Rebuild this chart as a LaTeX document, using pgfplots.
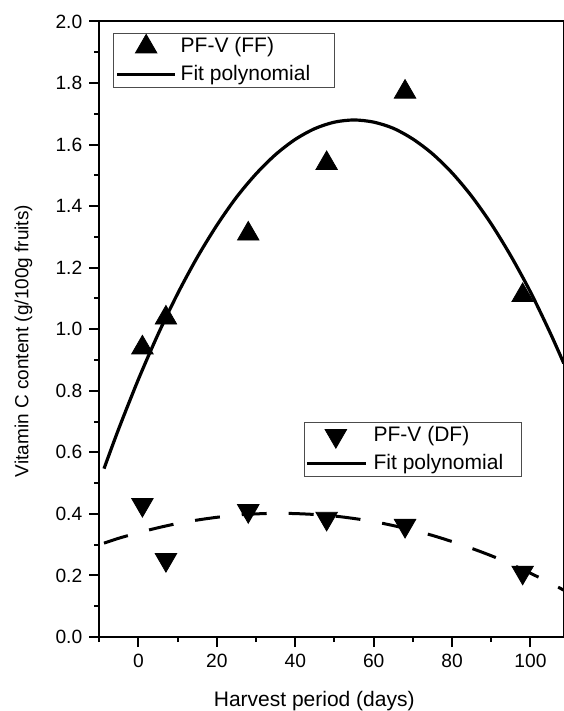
\documentclass[border=0pt]{standalone}
\usepackage{fontspec}
\setmainfont{Liberation Sans}
\usepackage{pgfplots}
\usepackage{pgfplotstable}
\pgfplotsset{compat=1.18}

% measured values
\pgfplotstableread{
x    y
1    0.940
7    1.037
28   1.310
48   1.539
68   1.771
98   1.110
}\ffdata
\pgfplotstableread{
x    y
1    0.430
7    0.251
28   0.410
48   0.385
68   0.362
98   0.210
}\dfdata

\pgfplotsset{
  common/.style={
    scale only axis,
    width=232.25pt, height=307.75pt,
    xmin=-10, xmax=108.5, ymin=0, ymax=2.0,
    legend image code/.code={%
      \draw[mark repeat=2,mark phase=2,##1] plot coordinates {(0cm,0cm) (0.508cm,0cm) (1.016cm,0cm)};},
    legend cell align=left,
  },
  solidlegend/.style={
    legend image code/.code={\draw[##1,solid] plot coordinates {(0cm,0cm) (1.03cm,0cm)};}},
}

\begin{document}
\begin{tikzpicture}
\begin{axis}[common, name=ax,
    axis line style={line width=1pt},
    every tick/.style={black, line width=1pt},
    tick align=outside, tick pos=left,
    major tick length=5pt, minor tick length=2.5pt,
    xtick={0,20,...,100}, minor x tick num=1,
    extra x ticks={-10}, extra x tick labels={},
    extra x tick style={major tick length=2.5pt},
    ytick={0,0.2,...,2.0}, minor y tick num=1,
    /pgf/number format/assume math mode=true,
    yticklabel style={/pgf/number format/.cd, fixed, fixed zerofill, precision=1},
    tick label style={font=\fontsize{9.6}{11}\selectfont},
    xlabel={Harvest period (days)},
    ylabel={Vitamin C content (g/100g fruits)},
    every axis x label/.style={at={(axis description cs:0.4627,0)}, anchor=base, yshift=-34.85pt, font=\fontsize{10.5}{12}\selectfont},
    every axis y label/.style={at={(axis description cs:-0.1634,0.481)}, anchor=center, rotate=90, font=\fontsize{9.5}{11}\selectfont},
    legend style={at={(0.029,0.982)}, anchor=north west, draw=gray!60!black, line width=0.5pt,
      inner xsep=1.2pt, inner ysep=0pt, font=\fontsize{10.5}{12}\selectfont,
      nodes={inner xsep=2pt, inner ysep=2.3pt}},
]
\addplot[only marks, mark=triangle*, mark size=6.2pt, mark options={fill=black, draw=black, line width=0.4pt}] table[x=x, y=y] {\ffdata};
\addlegendentry{\makebox[73.5pt][l]{PF-V (FF)}}
\addplot[black, line width=1.6pt, smooth, no marks] coordinates {
(-8.8,0.547) (-5,0.678) (0,0.838) (5,0.984) (10,1.116) (15,1.234) (20,1.338) (25,1.429)
(30,1.505) (35,1.568) (40,1.617) (45,1.652) (50,1.673) (55,1.680) (60,1.673) (65,1.653)
(70,1.618) (75,1.570) (80,1.508) (85,1.432) (90,1.342) (95,1.238) (100,1.121) (105,0.989) (108.5,0.889)
};
\addlegendentry{\makebox[73.5pt][l]{Fit polynomial}}
\end{axis}

\begin{axis}[common, axis lines=none, ticks=none,
    legend style={at={(0.441,0.350)}, anchor=north west, draw=gray!60!black, line width=0.5pt,
      inner xsep=0.4pt, inner ysep=0pt, font=\fontsize{10.5}{12}\selectfont,
      nodes={inner xsep=3.3pt, inner ysep=2.3pt}},
]
\addplot[only marks, mark=triangle*, mark size=6.2pt, mark options={rotate=180, fill=black, draw=black, line width=0.4pt}] table[x=x, y=y] {\dfdata};
\addlegendentry{\makebox[70pt][l]{PF-V (DF)}}
\addplot[black, line width=1.5pt, smooth, no marks, dash pattern=on 12.5pt off 11pt, solidlegend] coordinates {
(-8.8,0.305) (-5,0.321) (0,0.339) (5,0.355) (10,0.369) (15,0.380) (20,0.389) (25,0.396)
(30,0.400) (35,0.402) (40,0.401) (45,0.398) (50,0.393) (55,0.385) (60,0.375) (65,0.362)
(70,0.347) (75,0.330) (80,0.310) (85,0.288) (90,0.264) (95,0.237) (100,0.207) (105,0.176) (108.5,0.152)
};
\addlegendentry{\makebox[70pt][l]{Fit polynomial}}
\end{axis}

\pgfresetboundingbox
\path[use as bounding box] ([shift={(-49.65pt,-37pt)}]ax.south west) rectangle ([shift={(0pt,10.75pt)}]ax.north east);
\end{tikzpicture}
\end{document}
